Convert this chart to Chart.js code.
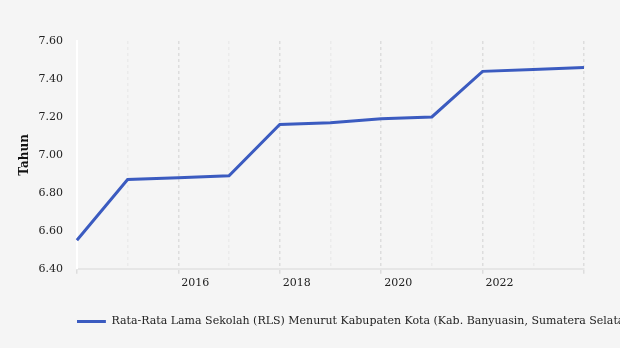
<!DOCTYPE html>
<html>
<head>
<meta charset="utf-8">
<script src="https://cdn.jsdelivr.net/npm/chart.js@4"></script>
<style>
  html, body { margin: 0; padding: 0; background: #f5f5f5; }
  #wrap { width: 620px; height: 348px; }
</style>
</head>
<body>
<div id="wrap"><canvas id="rlsChart"></canvas></div>
<script>
const years = ['2014', '2015', '2016', '2017', '2018', '2019', '2020', '2021', '2022', '2023', '2024'];
const rls = [6.55, 6.87, 6.88, 6.89, 7.16, 7.17, 7.19, 7.20, 7.44, 7.45, 7.46];
const shownYears = ['2016', '2018', '2020', '2022'];
const seriesName = 'Rata-Rata Lama Sekolah (RLS) Menurut Kabupaten Kota (Kab. Banyuasin, Sumatera Selatan)';

const serif = 'DejaVu Serif';

// legend starts under the plot area, text runs off the right edge like the original
const legendShift = {
    id: 'legendShift',
    afterLayout(chart) {
        if (chart.legend) {
            chart.legend.left = chart.chartArea.left;
            chart.legend.right = chart.width;
        }
    }
};

const ctx = document.getElementById('rlsChart').getContext('2d');
new Chart(ctx, {
    type: 'line',
    data: {
        labels: years,
        datasets: [{
            label: seriesName,
            data: rls,
            borderColor: '#3b5bc0',
            backgroundColor: '#3b5bc0',
            borderWidth: 3,
            pointRadius: 0,
            tension: 0,
            fill: false
        }]
    },
    options: {
        responsive: true,
        maintainAspectRatio: false,
        animation: false,
        layout: { padding: { top: 41, right: 36, left: 18, bottom: 11 } },
        scales: {
            x: {
                offset: false,
                afterFit: s => { s.height += 23; },
                grid: {
                    color: c => c.index % 2 === 0 ? '#dddddd' : '#ebebeb',
                    tickColor: c => c.index % 2 === 0 ? '#dddddd' : 'rgba(0,0,0,0)',
                    tickLength: 5,
                    lineWidth: 1.5
                },
                border: { color: '#e6e6e6', width: 2, dash: [3, 3] },
                ticks: {
                    autoSkip: false,
                    maxRotation: 0,
                    align: 'start',
                    labelOffset: 3,
                    color: '#222',
                    font: { family: serif, size: 11 },
                    callback: function(val, i) {
                        const lab = years[i];
                        return shownYears.includes(lab) ? lab : '';
                    }
                }
            },
            y: {
                min: 6.4,
                max: 7.6,
                grid: { display: false },
                border: { color: '#ffffff', width: 2 },
                ticks: {
                    stepSize: 0.2,
                    padding: 6,
                    color: '#222',
                    font: { family: serif, size: 11 },
                    callback: v => v.toFixed(2)
                },
                title: {
                    display: true,
                    text: 'Tahun',
                    color: '#111',
                    padding: 0,
                    font: { family: serif, size: 12, weight: 'bold' }
                }
            }
        },
        plugins: {
            legend: {
                position: 'bottom',
                align: 'start',
                labels: {
                    usePointStyle: true,
                    pointStyle: 'line',
                    pointStyleWidth: 29,
                    padding: 0,
                    color: '#222',
                    font: { family: serif, size: 11 }
                }
            },
            tooltip: { enabled: false }
        }
    },
    plugins: [legendShift]
});
</script>
</body>
</html>
